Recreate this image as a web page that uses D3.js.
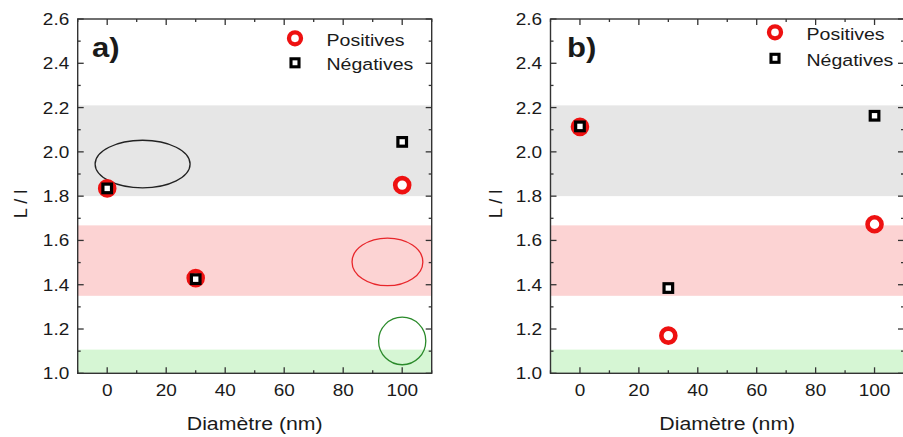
<!DOCTYPE html>
<html><head><meta charset="utf-8">
<script src="https://cdn.jsdelivr.net/npm/d3@7"></script>
<style>html,body{margin:0;padding:0;background:#fff;}svg{display:block;}</style>
</head><body>
<svg id="chart" width="903" height="437"></svg>
<script>
// ---- data ----
const diameters = [0, 30, 100];
const positivesA = [1.835, 1.43, 1.85];
const negativesA = [1.835, 1.425, 2.045];
const positivesB = [2.113, 1.17, 1.673];
const negativesB = [2.115, 1.385, 2.163];
const xTickValues = [0, 20, 40, 60, 80, 100];
const xMinorValues = [-10, 10, 30, 50, 70, 90, 110];
const yTickValues = [1.0, 1.2, 1.4, 1.6, 1.8, 2.0, 2.2, 2.4, 2.6];
const yMinorValues = [1.1, 1.3, 1.5, 1.7, 1.9, 2.1, 2.3, 2.5];
const bandRanges = [[1.8, 2.21], [1.35, 1.668], [1.0, 1.107]];
const bandColors = ["#e6e6e6", "#fcd3d3", "#d6f6d4"];
const ellipseCenters = [[12, 1.945], [95, 1.503], [100, 1.146]];
const ellipseRadii = [[16.1, 0.1075], [12, 0.1075], [8, 0.1075]];
const ellipseColors = ["#222", "#e8262b", "#2a8a2a"];
const seriesNames = ["Positives", "Négatives"];
const panelLabels = ["a)", "b)"];
const xLabel = "Diamètre (nm)";
const yLabel = "L / l";

const svg = d3.select("#chart");
const FONT = "'Liberation Sans', Arial, sans-serif";
const SX = 1.15;

function stext(g, x, y, str, size, anchor, weight) {
  return g.append("text")
    .attr("transform", `translate(${x},${y}) scale(${SX},1)`)
    .attr("text-anchor", anchor || "start")
    .attr("font-family", FONT)
    .attr("font-size", size)
    .attr("font-weight", weight || "normal")
    .attr("fill", "#1a1a1a")
    .text(str);
}

const panels = [
  {x0: 77.7, x1: 431.7, pos: positivesA, neg: negativesA, label: panelLabels[0], labelX: 92, legX: 295, legY: 38.3, legDy: 24.5, ylabX: 27, ellipses: true},
  {x0: 550.5, x1: 904, pos: positivesB, neg: negativesB, label: panelLabels[1], labelX: 567, legX: 775, legY: 32.3, legDy: 26, ylabX: 502, ellipses: false}
];

const yTop = 19, yBot = 373.3;

panels.forEach(p => {
  const g = svg.append("g");
  const x = d3.scaleLinear().domain([-10, 110]).range([p.x0, p.x1]);
  const y = d3.scaleLinear().domain([1.0, 2.6]).range([yBot, yTop]);

  // bands
  g.selectAll("rect.band").data(bandRanges).enter().append("rect")
    .attr("x", x(-10)).attr("width", x(110) - x(-10))
    .attr("y", d => y(d[1])).attr("height", d => y(d[0]) - y(d[1]))
    .attr("fill", (d, i) => bandColors[i]);

  // ellipses
  if (p.ellipses) {
    g.selectAll("ellipse").data(ellipseCenters).enter().append("ellipse")
      .attr("cx", d => x(d[0])).attr("cy", d => y(d[1]))
      .attr("rx", (d, i) => x(ellipseRadii[i][0]) - x(0))
      .attr("ry", (d, i) => y(1.0) - y(1.0 + ellipseRadii[i][1]))
      .attr("fill", "none").attr("stroke", (d, i) => ellipseColors[i]).attr("stroke-width", 1.3);
  }

  // frame
  g.append("rect").attr("x", x(-10)).attr("y", y(2.6))
    .attr("width", x(110) - x(-10)).attr("height", y(1.0) - y(2.6))
    .attr("fill", "none").attr("stroke", "#333").attr("stroke-width", 1.4);

  // ticks (inside, all four sides)
  const tk = g.append("g").attr("stroke", "#333").attr("stroke-width", 1.3);
  const addX = (vals, len) => vals.forEach(v => {
    tk.append("line").attr("x1", x(v)).attr("x2", x(v)).attr("y1", y(1.0)).attr("y2", y(1.0) - len);
    tk.append("line").attr("x1", x(v)).attr("x2", x(v)).attr("y1", y(2.6)).attr("y2", y(2.6) + len);
  });
  const addY = (vals, len) => vals.forEach(v => {
    tk.append("line").attr("y1", y(v)).attr("y2", y(v)).attr("x1", x(-10)).attr("x2", x(-10) + len);
    tk.append("line").attr("y1", y(v)).attr("y2", y(v)).attr("x1", x(110)).attr("x2", x(110) - len);
  });
  addX(xTickValues, 6); addX(xMinorValues, 3);
  addY(yTickValues, 6); addY(yMinorValues, 3);

  // tick labels
  xTickValues.forEach(v => stext(g, x(v), 396, d3.format("d")(v), 16.5, "middle"));
  yTickValues.forEach(v => stext(g, x(-10) - 8.5, y(v) + 6, d3.format(".1f")(v), 16.5, "end"));

  // axis titles
  stext(g, (x(-10) + x(110)) / 2, 430, xLabel, 18.5, "middle");
  g.append("text")
    .attr("transform", `translate(${p.ylabX},204) rotate(-90)`)
    .attr("text-anchor", "middle").attr("font-family", FONT).attr("font-size", 18)
    .attr("fill", "#1a1a1a").text(yLabel);

  // panel label
  stext(g, p.labelX, 56.5, p.label, 27, "start", "bold");

  // data: circles then squares
  g.selectAll("circle.pos").data(diameters).enter().append("circle")
    .attr("cx", d => x(d)).attr("cy", (d, i) => y(p.pos[i])).attr("r", 7)
    .attr("fill", "#fff").attr("stroke", "#ee1111").attr("stroke-width", 4.6);
  const s = 8.6;
  g.selectAll("rect.neg").data(diameters).enter().append("rect")
    .attr("x", d => x(d) - s / 2).attr("y", (d, i) => y(p.neg[i]) - s / 2)
    .attr("width", s).attr("height", s)
    .attr("fill", "#fff").attr("stroke", "#000").attr("stroke-width", 3.2);

  // legend
  g.append("circle").attr("cx", p.legX).attr("cy", p.legY).attr("r", 6)
    .attr("fill", "#fff").attr("stroke", "#ee1111").attr("stroke-width", 4.3);
  g.append("rect").attr("x", p.legX - 4).attr("y", p.legY + p.legDy - 4)
    .attr("width", 8).attr("height", 8)
    .attr("fill", "#fff").attr("stroke", "#000").attr("stroke-width", 3.1);
  stext(g, p.legX + 31.5, p.legY + 7.5, seriesNames[0], 17, "start");
  stext(g, p.legX + 31.5, p.legY + p.legDy + 7.5, seriesNames[1], 17, "start");
});
</script>
</body></html>
